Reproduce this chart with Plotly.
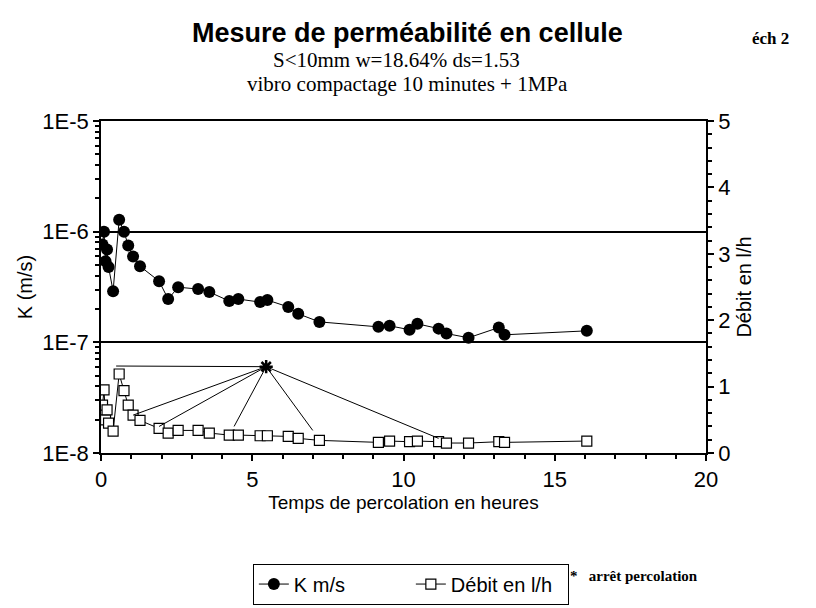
import plotly.graph_objects as go

# Time (hours)
t_h = [0.05, 0.1, 0.15, 0.2, 0.25, 0.4, 0.6, 0.76, 0.9, 1.06, 1.29, 1.92, 2.22, 2.55,
       3.21, 3.58, 4.24, 4.54, 5.26, 5.5, 6.19, 6.52, 7.22, 9.17, 9.54, 10.2, 10.46,
       11.16, 11.42, 12.15, 13.15, 13.34, 16.06]
# Permeability K (m/s)
k_ms = [7.65e-7, 1.0e-6, 5.4e-7, 6.9e-7, 4.8e-7, 2.9e-7, 1.28e-6, 1.0e-6, 7.5e-7, 5.97e-7,
        4.87e-7, 3.57e-7, 2.46e-7, 3.15e-7, 3.03e-7, 2.85e-7, 2.36e-7, 2.46e-7, 2.31e-7,
        2.41e-7, 2.09e-7, 1.81e-7, 1.53e-7, 1.38e-7, 1.41e-7, 1.30e-7, 1.47e-7, 1.33e-7,
        1.20e-7, 1.10e-7, 1.36e-7, 1.17e-7, 1.27e-7]
# Flow rate (l/h)
debit_lh = [0.72, 0.95, 0.50, 0.65, 0.45, 0.33, 1.19, 0.94, 0.72, 0.57, 0.49, 0.37, 0.30,
            0.34, 0.34, 0.30, 0.27, 0.27, 0.26, 0.26, 0.25, 0.22, 0.19, 0.16, 0.18, 0.17,
            0.18, 0.17, 0.15, 0.15, 0.17, 0.16, 0.18]

# "arrêt percolation" marker and the points it refers to
star_t = 5.46
star_q = 1.30
stop_t = [0.5, 1.06, 1.92, 4.4, 7.0, 11.16]
stop_q = [1.31, 0.57, 0.40, 0.40, 0.34, 0.22]

k_tickvals = [1e-8, 1e-7, 1e-6, 1e-5]
k_ticktext = ["1E-8", "1E-7", "1E-6", "1E-5"]
k_minor_mult = [2, 3, 4, 5, 6, 7, 8, 9]
k_minor_vals = [m * d for d in [1e-8, 1e-7, 1e-6] for m in k_minor_mult]

SANS = "Arial, Liberation Sans, sans-serif"
SERIF = "Times New Roman, Liberation Serif, serif"

fig = go.Figure()

fig.add_trace(go.Scatter(
    x=t_h, y=k_ms, name="K m/s", mode="lines+markers",
    line=dict(color="black", width=1),
    marker=dict(symbol="circle", size=12, color="black"),
    yaxis="y"))

fig.add_trace(go.Scatter(
    x=t_h, y=debit_lh, name="Débit en l/h", mode="lines+markers",
    line=dict(color="black", width=1),
    marker=dict(symbol="square", size=10, color="white", line=dict(color="black", width=1.2)),
    yaxis="y2"))

for tt, qq in zip(stop_t, stop_q):
    fig.add_shape(type="line", xref="x", yref="y2", x0=star_t, y0=star_q, x1=tt, y1=qq,
                  line=dict(color="black", width=1))

fig.add_trace(go.Scatter(
    x=[star_t], y=[star_q], mode="markers", showlegend=False, yaxis="y2",
    marker=dict(symbol="asterisk-open", size=11, color="black",
                line=dict(color="black", width=2.5))))

axis_common = dict(showline=True, linecolor="black", linewidth=1.5, ticks="outside",
                   tickcolor="black", ticklen=6, tickwidth=1.5, automargin=False,
                   tickfont=dict(family=SANS, size=22, color="black"))

fig.update_layout(
    width=816, height=608,
    paper_bgcolor="white", plot_bgcolor="white",
    margin=dict(l=93, r=118, t=113, b=150),
    showlegend=True,
    legend=dict(orientation="h", x=0.251, y=-0.333, xanchor="left", yanchor="top",
                bordercolor="black", borderwidth=1, bgcolor="white",
                font=dict(family=SANS, size=20, color="black"),
                itemwidth=30, entrywidth=112, entrywidthmode="pixels"),
    xaxis=dict(range=[0, 20], dtick=5, mirror=True, showgrid=False, zeroline=False,
               minor=dict(dtick=1, ticks="outside", ticklen=4, tickcolor="black"),
               title=dict(text="Temps de percolation en heures",
                          font=dict(family=SANS, size=19, color="black"), standoff=4),
               **axis_common),
    yaxis=dict(type="log", range=[-8, -5], tickvals=k_tickvals, ticktext=k_ticktext,
               showgrid=True, gridcolor="black", gridwidth=1.5, zeroline=False,
               minor=dict(tickvals=k_minor_vals, ticks="outside", ticklen=4,
                          tickcolor="black", showgrid=False),
               title=dict(text="K (m/s)", font=dict(family=SANS, size=20, color="black"),
                          standoff=4),
               **axis_common),
    yaxis2=dict(range=[0, 5], dtick=1, overlaying="y", side="right", showgrid=False,
                zeroline=False,
                minor=dict(dtick=0.2, ticks="outside", ticklen=4, tickcolor="black"),
                title=dict(text="Débit en l/h", font=dict(family=SANS, size=20, color="black"),
                           standoff=8),
                **axis_common),
)

fig.add_annotation(text="<b>Mesure de perméabilité en cellule</b>", xref="paper", yref="paper",
                   x=0.507, y=1.265, xanchor="center", yanchor="middle", showarrow=False,
                   font=dict(family=SANS, size=27, color="black"))
fig.add_annotation(text="S&lt;10mm w=18.64% ds=1.53", xref="paper", yref="paper",
                   x=0.488, y=1.184, xanchor="center", yanchor="middle", showarrow=False,
                   font=dict(family=SERIF, size=21, color="black"))
fig.add_annotation(text="vibro compactage 10 minutes + 1MPa", xref="paper", yref="paper",
                   x=0.507, y=1.11, xanchor="center", yanchor="middle", showarrow=False,
                   font=dict(family=SERIF, size=21, color="black"))
fig.add_annotation(text="<b>éch 2</b>", xref="paper", yref="paper",
                   x=1.14, y=1.25, xanchor="right", yanchor="middle", showarrow=False,
                   font=dict(family=SERIF, size=17, color="black"))
fig.add_annotation(text="<b>*   arrêt percolation</b>", xref="paper", yref="paper",
                   x=0.772, y=-0.37, xanchor="left", yanchor="middle", showarrow=False,
                   font=dict(family=SERIF, size=15, color="black"))

fig.write_html("out.html")
